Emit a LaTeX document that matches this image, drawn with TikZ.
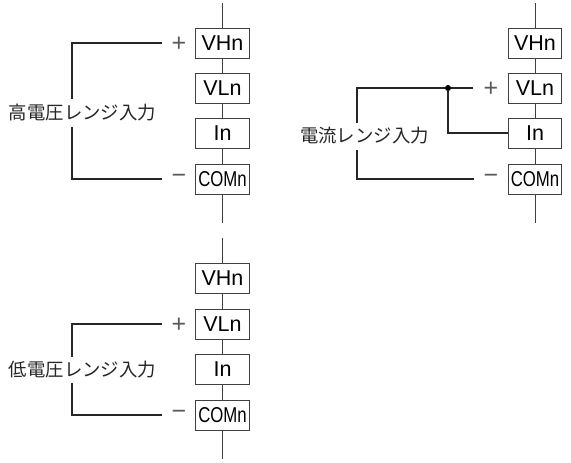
\documentclass[tikz,border=0pt]{standalone}
\usepackage{fontspec}
\usepackage{graphicx}
\setmainfont{Liberation Sans}
\newfontfamily\cjk{Noto Sans CJK JP}
\usetikzlibrary{calc}
\tikzset{
  x=1pt,y=-1pt,
  termbox/.style={draw=black!75,line width=0.8pt,fill=white,minimum width=53.5pt,minimum height=30pt,inner sep=0pt,font=\fontsize{21.5}{21.5}\selectfont},
  rail/.style={draw=black!75,line width=0.8pt},
  wire/.style={draw=black!85,line width=1.7pt,line join=miter},
  rangelabel/.style={fill=white,inner xsep=0pt,inner ysep=5pt,font=\cjk\fontsize{18.4}{18.4}\selectfont,text=black!85},
  sign/.style={inner sep=0pt,font=\fontsize{25}{25}\selectfont,text=black!65},
  jointdot/.style={circle,fill=black,inner sep=0pt,minimum size=6pt}
}
\newcommand{\terminals}[6]{%
  % #1 prefix, #2 centre x, #3..#6 centre y of boxes
  \node[termbox] (#1v) at (#2,#3) {VHn};
  \node[termbox] (#1l) at (#2,#4) {VLn};
  \node[termbox] (#1i) at (#2,#5) {In};
  \node[termbox] (#1c) at (#2,#6) {\scalebox{0.78}[1]{COMn}};
  \coordinate (#1top) at (#2,#3-40);
  \coordinate (#1bot) at (#2,#6+44);
  \draw[rail] (#1top) -- (#1v) (#1v) -- (#1l) (#1l) -- (#1i) (#1i) -- (#1c) (#1c) -- (#1bot);
}
\begin{document}
\begin{tikzpicture}
\useasboundingbox (0,0) rectangle (571,463);
% upper left
\terminals{a}{222.5}{43}{88}{133}{179}
\coordinate (ap) at (162,43);
\coordinate (am) at (162,179);
\coordinate (ac1) at (72,43);
\coordinate (ac2) at (72,179);
\draw[wire] (ap) -- (ac1) -- (ac2) -- (am);
\node[rangelabel] (alab) at (82.5,113) {高電圧レンジ入力};
\node[sign] (aplus) at (179,44) {+};
\node[sign] (aminus) at (179,179) {−};
% upper right
\terminals{b}{535}{43}{88}{133}{179}
\coordinate (bp) at (473,88);
\coordinate (bm) at (474,179);
\coordinate (bc1) at (357,88);
\coordinate (bc2) at (357,179);
\draw[wire] (bp) -- (bc1) -- (bc2) -- (bm);
\node[rangelabel] (blab) at (364.5,136) {電流レンジ入力};
\node[jointdot] (bdot) at (448,88) {};
\draw[wire] (bdot) |- (bi);
\node[sign] (bplus) at (491,89) {+};
\node[sign] (bminus) at (491,179) {−};
% lower left
\terminals{c}{222.5}{278}{324}{369}{415}
\coordinate (cp) at (162,324);
\coordinate (cm) at (162,415);
\coordinate (cc1) at (72,324);
\coordinate (cc2) at (72,415);
\draw[wire] (cp) -- (cc1) -- (cc2) -- (cm);
\node[rangelabel] (clab) at (82.5,370) {低電圧レンジ入力};
\node[sign] (cplus) at (179,325) {+};
\node[sign] (cminus) at (179,415) {−};
\end{tikzpicture}
\end{document}
